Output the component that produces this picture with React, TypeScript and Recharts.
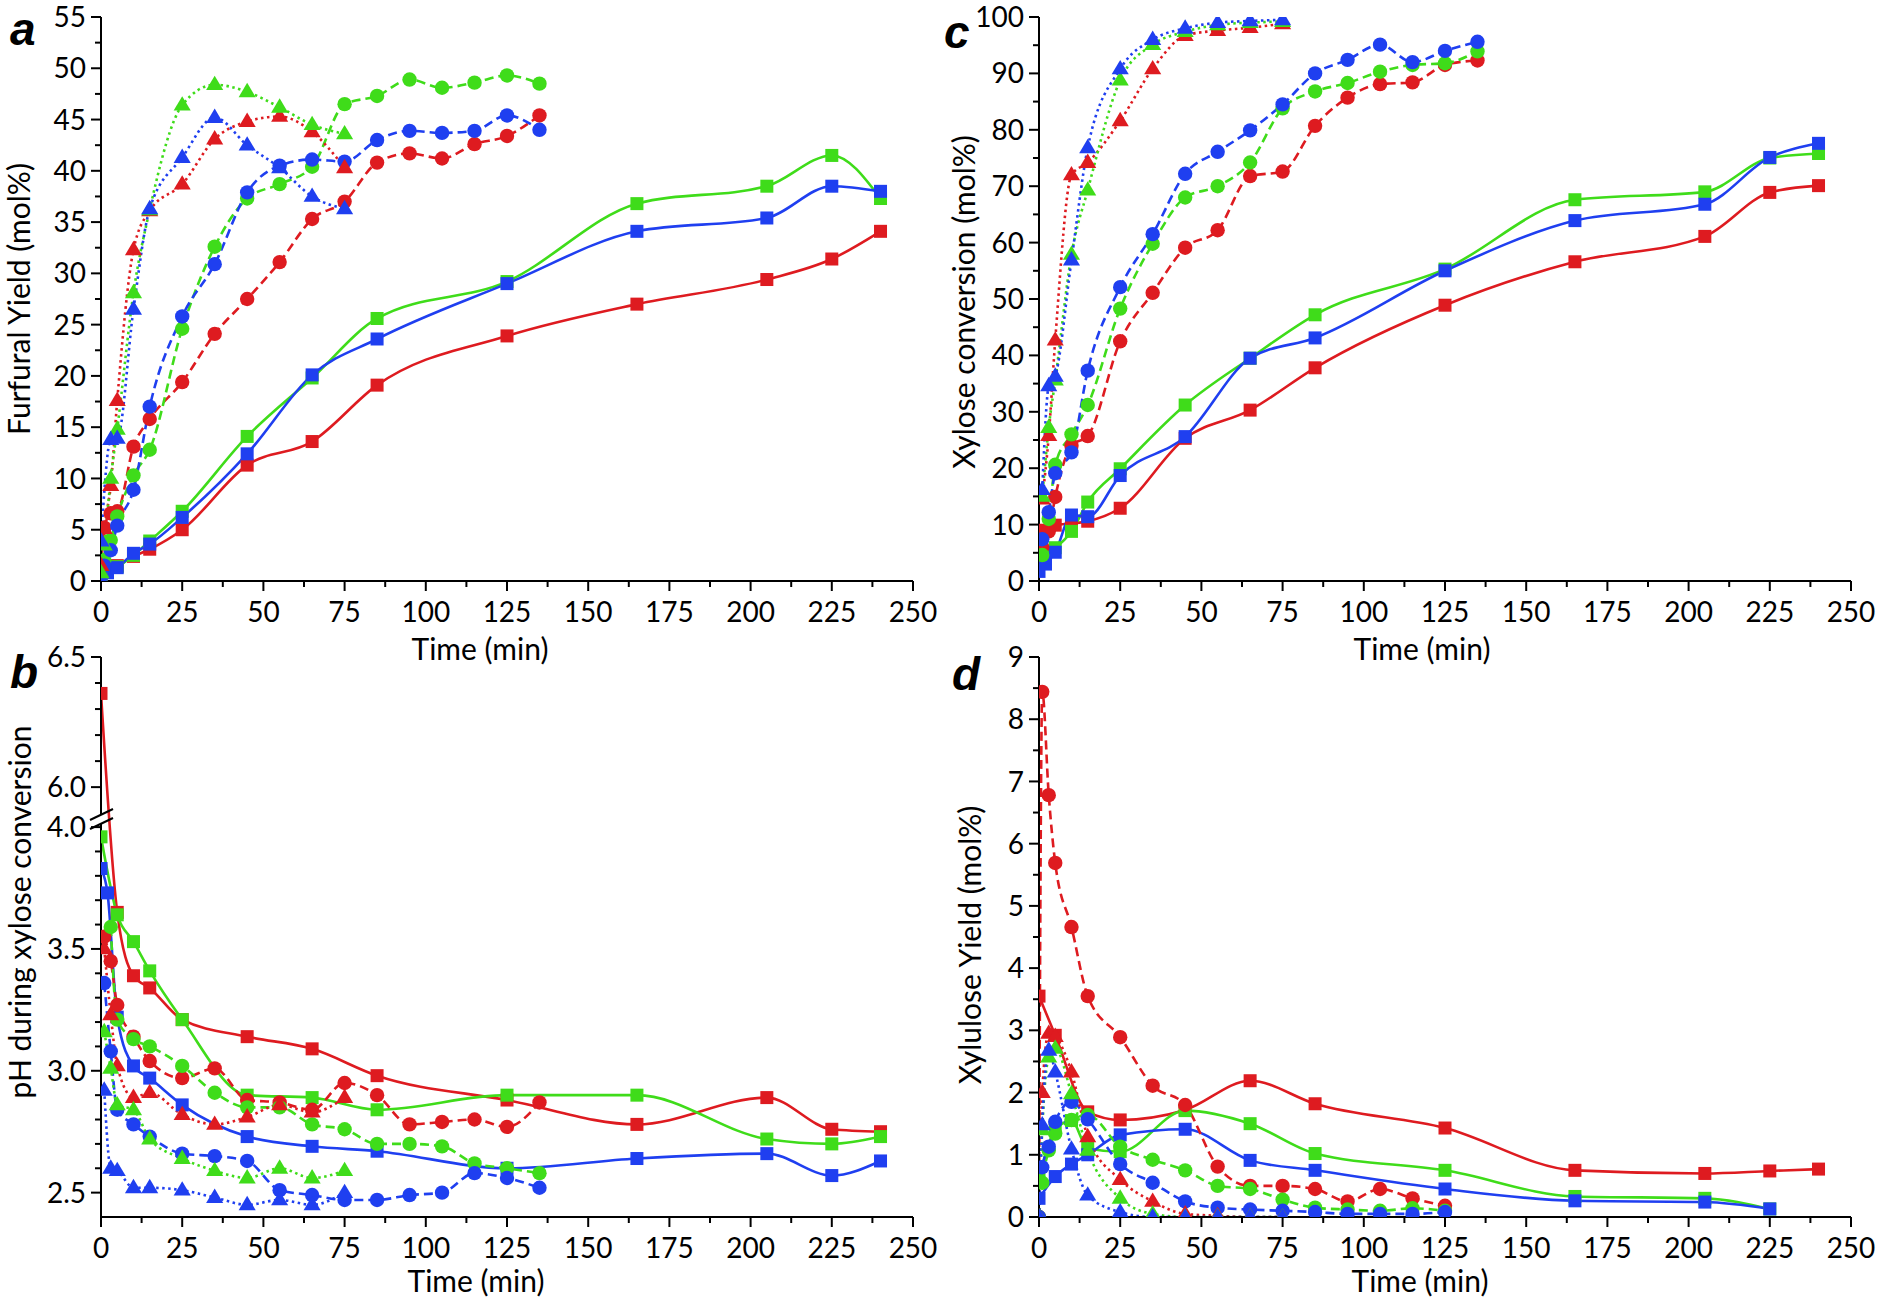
import React from 'react';
import { LineChart, Line, XAxis, YAxis } from 'recharts';

const RED = '#de1b20';
const GREEN = '#3fdc1a';
const BLUE = '#1f3ff0';
const FONT = "Lato, 'Open Sans', sans-serif";

// sampling times (min)
const tSq = [0, 2, 5, 10, 15, 25, 45, 65, 85, 125, 165, 205, 225, 240];
const tCi = [0, 1, 3, 5, 10, 15, 25, 35, 45, 55, 65, 75, 85, 95, 105, 115, 125, 135];
const tTr = [0, 1, 3, 5, 10, 15, 25, 35, 45, 55, 65, 75];

// panel a: furfural yield (mol%)
const aSqRed = [0.2, 1.0, 1.5, 2.4, 3.1, 5.0, 11.3, 13.6, 19.1, 23.9, 27.0, 29.4, 31.4, 34.1];
const aSqGreen = [0.5, 1.0, 1.4, 2.5, 3.9, 6.8, 14.1, 19.8, 25.6, 29.2, 36.8, 38.5, 41.5, 37.3];
const aSqBlue = [0.3, 0.8, 1.3, 2.7, 3.6, 6.2, 12.4, 20.1, 23.6, 29.0, 34.1, 35.4, 38.5, 38.0];
const aCiRed = [1.5, 5.2, 6.6, 6.8, 13.1, 15.8, 19.4, 24.1, 27.5, 31.1, 35.3, 37.0, 40.8, 41.7, 41.2, 42.6, 43.4, 45.4];
const aCiGreen = [0.5, 2.0, 4.0, 6.3, 10.3, 12.8, 24.6, 32.6, 37.3, 38.7, 40.4, 46.5, 47.3, 48.9, 48.1, 48.6, 49.3, 48.5];
const aCiBlue = [0.5, 1.5, 3.0, 5.4, 8.9, 17.0, 25.8, 30.9, 37.9, 40.5, 41.1, 40.9, 43.0, 43.9, 43.7, 43.9, 45.4, 44.0];
const aTrRed = [1.5, 5.1, 9.3, 17.6, 32.3, 36.1, 38.7, 43.1, 44.8, 45.3, 43.8, 40.3];
const aTrGreen = [0.8, 3.5, 10.0, 14.8, 28.1, 36.2, 46.4, 48.4, 47.7, 46.2, 44.5, 43.6];
const aTrBlue = [3.9, null, 13.8, 13.9, 26.5, 36.3, 41.3, 45.2, 42.5, 40.3, 37.5, 36.3];

// panel b: pH during xylose conversion
const bSqRed = [6.36, null, 3.65, 3.39, 3.34, 3.21, 3.14, 3.09, 2.98, 2.88, 2.78, 2.89, 2.76, 2.75];
const bSqGreen = [3.96, null, 3.64, 3.53, 3.41, 3.21, 2.90, 2.89, 2.84, 2.90, 2.90, 2.72, 2.70, 2.73];
const bSqBlue = [3.83, 3.73, 3.22, 3.02, 2.97, 2.86, 2.73, 2.69, 2.67, 2.60, 2.64, 2.66, 2.57, 2.63];
const bCiRed = [null, 3.55, 3.45, 3.27, 3.14, 3.04, 2.97, 3.01, 2.88, 2.87, 2.84, 2.95, 2.90, 2.78, 2.79, 2.80, 2.77, 2.87];
const bCiGreen = [null, null, 3.59, 3.21, 3.13, 3.10, 3.02, 2.91, 2.85, 2.85, 2.78, 2.76, 2.70, 2.70, 2.69, 2.62, 2.60, 2.58];
const bCiBlue = [null, 3.36, 3.08, 2.84, 2.78, 2.73, 2.66, 2.65, 2.63, 2.51, 2.49, 2.47, 2.47, 2.49, 2.50, 2.58, 2.56, 2.52];
const bTrRed = [null, 3.50, 3.23, 3.02, 2.89, 2.91, 2.82, 2.78, 2.81, 2.86, 2.83, 2.89];
const bTrGreen = [null, 3.16, 3.01, 2.86, 2.84, 2.72, 2.64, 2.59, 2.56, 2.60, 2.56, 2.59];
const bTrBlue = [null, 2.92, 2.60, 2.59, 2.52, 2.52, 2.51, 2.48, 2.45, 2.47, 2.45, 2.50];

// panel c: xylose conversion (mol%)
const cSqRed = [6.5, 9.0, 9.9, 10.2, 10.6, 12.9, 25.3, 30.3, 37.8, 48.9, 56.6, 61.1, 68.9, 70.1];
const cSqGreen = [4.2, 5.0, 5.9, 8.8, 14.0, 19.9, 31.2, 39.5, 47.2, 55.3, 67.6, 69.0, 75.0, 75.8];
const cSqBlue = [1.7, 3.0, 5.1, 11.7, 11.4, 18.7, 25.6, 39.5, 43.1, 55.0, 63.9, 66.8, 75.1, 77.6];
const cCiRed = [null, 6.0, 8.8, 14.9, 24.0, 25.7, 42.5, 51.1, 59.1, 62.2, 71.8, 72.6, 80.7, 85.7, 88.1, 88.4, 91.5, 92.3];
const cCiGreen = [null, 4.6, 11.0, 20.6, 26.0, 31.2, 48.3, 59.8, 68.0, 70.0, 74.2, 83.8, 86.8, 88.3, 90.3, 91.5, 91.8, 93.9];
const cCiBlue = [null, 7.4, 12.2, 19.1, 22.8, 37.3, 52.1, 61.5, 72.2, 76.1, 79.9, 84.5, 90.0, 92.4, 95.1, 92.0, 94.0, 95.6];
const cTrRed = [null, 14.5, 25.8, 42.7, 72.0, 74.2, 81.6, 90.8, 96.7, 97.6, 98.1, 98.8];
const cTrGreen = [null, 15.0, 27.2, 35.6, 57.9, 69.3, 88.8, 95.1, 97.4, 98.6, 99.0, 99.2];
const cTrBlue = [null, 16.2, 34.6, 36.3, 56.9, 76.8, 90.8, 96.0, 98.0, 99.0, 99.3, 99.5];

// panel d: xylulose yield (mol%)
const dSqRed = [3.55, null, 2.92, null, 1.69, 1.56, 1.72, 2.19, 1.82, 1.43, 0.75, 0.70, 0.74, 0.77];
const dSqGreen = [0.6, null, 1.4, 1.55, 1.1, 1.05, 1.71, 1.50, 1.02, 0.75, 0.33, 0.30, 0.13, null];
const dSqBlue = [0.3, null, 0.65, 0.85, 1.0, 1.32, 1.41, 0.91, 0.75, 0.45, 0.26, 0.24, 0.13, null];
const dCiRed = [0, 8.44, 6.78, 5.69, 4.66, 3.55, 2.89, 2.11, 1.80, 0.81, 0.50, 0.50, 0.45, 0.25, 0.45, 0.30, 0.18, null];
const dCiGreen = [0, 0.55, 1.07, 1.34, 1.56, 1.64, 1.13, 0.92, 0.75, 0.50, 0.45, 0.28, 0.15, 0.12, 0.10, 0.14, 0.10, null];
const dCiBlue = [0, 0.80, 1.13, 1.53, 1.85, 1.57, 0.85, 0.55, 0.25, 0.15, 0.12, 0.10, 0.08, 0.05, 0.05, 0.05, 0.08, null];
const dTrRed = [0, 2.0, 2.95, 2.9, 2.33, 1.29, 0.6, 0.25, 0.05, 0.02, 0, 0];
const dTrGreen = [0, 1.4, 2.57, 2.71, 1.98, 1.07, 0.3, 0.05, 0, 0, 0, 0];
const dTrBlue = [0, 1.48, 2.68, 2.33, 1.09, 0.35, 0.08, 0, 0, 0, 0, 0];

// axis tick values
const xTicks = Array.from({ length: 21 }, (_, i) => i * 12.5);
const aYTicks = Array.from({ length: 23 }, (_, i) => i * 2.5);
const cYTicks = Array.from({ length: 21 }, (_, i) => i * 5);
const dYTicks = Array.from({ length: 19 }, (_, i) => i * 0.5);
const bLowerTicks = [25, 26, 27, 28, 29, 30, 31, 32, 33, 34, 35, 36, 37, 38, 39, 40];
const bUpperTicks = [60, 61, 62, 63, 64, 65];

// broken axis mapping for panel b (2.4-4.0 | 6.0-6.5)
const B_GAP = 0.164;
const B_K = 1.068;
const uB = (v: number) => (v <= 4.0 ? v : 4.0 + B_GAP + (v - 6.0) * B_K);
const bTickInfo = [
  ...bLowerTicks.map((i) => ({ u: uB(i / 10), label: (i / 10).toFixed(1), major: i % 5 === 0 })),
  ...bUpperTicks.map((i) => ({ u: uB(i / 10), label: (i / 10).toFixed(1), major: i % 5 === 0 })),
];

type Shape = 'sq' | 'ci' | 'tr';
type Series = { t: number[]; v: (number | null)[]; color: string; shape: Shape };

const mk = (t: number[], v: (number | null)[], color: string, shape: Shape): Series => ({ t, v, color, shape });

const aSeries: Series[] = [
  mk(tSq, aSqRed, RED, 'sq'), mk(tSq, aSqGreen, GREEN, 'sq'), mk(tSq, aSqBlue, BLUE, 'sq'),
  mk(tCi, aCiRed, RED, 'ci'), mk(tCi, aCiGreen, GREEN, 'ci'), mk(tCi, aCiBlue, BLUE, 'ci'),
  mk(tTr, aTrRed, RED, 'tr'), mk(tTr, aTrGreen, GREEN, 'tr'), mk(tTr, aTrBlue, BLUE, 'tr'),
];
const bSeries: Series[] = [
  mk(tSq, bSqRed, RED, 'sq'), mk(tSq, bSqGreen, GREEN, 'sq'), mk(tSq, bSqBlue, BLUE, 'sq'),
  mk(tCi, bCiRed, RED, 'ci'), mk(tCi, bCiGreen, GREEN, 'ci'), mk(tCi, bCiBlue, BLUE, 'ci'),
  mk(tTr, bTrRed, RED, 'tr'), mk(tTr, bTrGreen, GREEN, 'tr'), mk(tTr, bTrBlue, BLUE, 'tr'),
];
const cSeries: Series[] = [
  mk(tSq, cSqRed, RED, 'sq'), mk(tSq, cSqGreen, GREEN, 'sq'), mk(tSq, cSqBlue, BLUE, 'sq'),
  mk(tCi, cCiRed, RED, 'ci'), mk(tCi, cCiGreen, GREEN, 'ci'), mk(tCi, cCiBlue, BLUE, 'ci'),
  mk(tTr, cTrRed, RED, 'tr'), mk(tTr, cTrGreen, GREEN, 'tr'), mk(tTr, cTrBlue, BLUE, 'tr'),
];
const dSeries: Series[] = [
  mk(tSq, dSqRed, RED, 'sq'), mk(tSq, dSqGreen, GREEN, 'sq'), mk(tSq, dSqBlue, BLUE, 'sq'),
  mk(tCi, dCiRed, RED, 'ci'), mk(tCi, dCiGreen, GREEN, 'ci'), mk(tCi, dCiBlue, BLUE, 'ci'),
  mk(tTr, dTrRed, RED, 'tr'), mk(tTr, dTrGreen, GREEN, 'tr'), mk(tTr, dTrBlue, BLUE, 'tr'),
];

const toData = (s: Series, f: (v: number) => number) =>
  s.t.map((t, i) => ({ t, v: s.v[i] == null ? null : f(s.v[i] as number) })).filter((d) => d.v != null);

const makeDot = (shape: Shape, color: string) => (props: any) => {
  const { cx, cy, index } = props;
  if (cx == null || cy == null || isNaN(cx) || isNaN(cy)) return <g key={`n${index}`} />;
  if (shape === 'sq') return <rect key={`s${index}`} x={cx - 6.5} y={cy - 6.5} width={13} height={13} fill={color} />;
  if (shape === 'ci') return <circle key={`c${index}`} cx={cx} cy={cy} r={7.2} fill={color} />;
  const s = 9;
  return (
    <polygon
      key={`t${index}`}
      points={`${cx},${cy - s} ${cx - s * 0.95},${cy + s * 0.6} ${cx + s * 0.95},${cy + s * 0.6}`}
      fill={color}
    />
  );
};

const dashOf = (shape: Shape) => (shape === 'sq' ? undefined : shape === 'ci' ? '9 5' : '2.5 3.5');

const AXIS_X = 101;
const TICK_FS = 28;

const makeXTick = (axisY: number) => (props: any) => {
  const { x, payload } = props;
  const v = payload.value as number;
  const major = Math.abs(v / 25 - Math.round(v / 25)) < 1e-6;
  return (
    <g>
      <line x1={x} x2={x} y1={axisY} y2={axisY + (major ? 10 : 6)} stroke="#000" strokeWidth={2} />
      {major && (
        <text x={x} y={axisY + 41} textAnchor="middle" fontFamily={FONT} fontSize={TICK_FS} fill="#000">
          {Math.round(v)}
        </text>
      )}
    </g>
  );
};

const makeYTick = (isMajor: (v: number) => boolean, fmt: (v: number) => string) => (props: any) => {
  const { y, payload } = props;
  const v = payload.value as number;
  const major = isMajor(v);
  return (
    <g>
      <line x1={AXIS_X - (major ? 10 : 6)} x2={AXIS_X} y1={y} y2={y} stroke="#000" strokeWidth={2} />
      {major && (
        <text x={AXIS_X - 15} y={y} dy="0.36em" textAnchor="end" fontFamily={FONT} fontSize={TICK_FS} fill="#000">
          {fmt(v)}
        </text>
      )}
    </g>
  );
};

const near = (a: number, b: number) => Math.abs(a - b) < 1e-6;

type PanelProps = {
  left: number;
  top: number;
  height: number;
  marginTop: number;
  marginBottom: number;
  series: Series[];
  yDomain: [number, number];
  yTicks: number[];
  isMajor: (v: number) => boolean;
  fmt: (v: number) => string;
  f: (v: number) => number;
};

function Panel(p: PanelProps) {
  const width = 940;
  const axisY = p.height - p.marginBottom - 70;
  return (
    <div style={{ position: 'absolute', left: p.left, top: p.top }}>
      <LineChart width={width} height={p.height} margin={{ top: p.marginTop, right: 27, bottom: p.marginBottom, left: 0 }}>
        <XAxis
          type="number"
          dataKey="t"
          domain={[0, 250]}
          ticks={xTicks}
          interval={0}
          height={70}
          tickLine={false}
          tickSize={9}
          tickMargin={8}
          tick={makeXTick(axisY)}
          axisLine={{ stroke: '#000', strokeWidth: 2 }}
          allowDataOverflow
        />
        <YAxis
          type="number"
          domain={p.yDomain}
          ticks={p.yTicks}
          interval={0}
          width={101}
          tickLine={false}
          tickSize={9}
          tickMargin={8}
          tick={makeYTick(p.isMajor, p.fmt)}
          axisLine={{ stroke: '#000', strokeWidth: 2 }}
          allowDataOverflow
        />
        {p.series.map((s, i) => (
          <Line
            key={i}
            data={toData(s, p.f)}
            dataKey="v"
            type="monotone"
            stroke={s.color}
            strokeWidth={2.6}
            strokeDasharray={dashOf(s.shape)}
            dot={makeDot(s.shape, s.color)}
            activeDot={false}
            isAnimationActive={false}
            connectNulls
          />
        ))}
      </LineChart>
    </div>
  );
}

const ident = (v: number) => v;

export default function App() {
  const txt = { fontFamily: FONT, fontSize: 30, fill: '#000' } as const;
  const letter = { fontFamily: "'Liberation Sans', Arial, sans-serif", fontSize: 46, fontWeight: 700, fontStyle: 'italic', fill: '#000' } as const;
  return (
    <div style={{ position: 'absolute', left: 0, top: 0, width: 1878, height: 1303, background: '#fff', overflow: 'hidden' }}>
      <Panel
        left={0}
        top={0}
        height={660}
        marginTop={17}
        marginBottom={9}
        series={aSeries}
        yDomain={[0, 55]}
        yTicks={aYTicks}
        isMajor={(v) => near(v / 5, Math.round(v / 5))}
        fmt={(v) => String(Math.round(v))}
        f={ident}
      />
      <Panel
        left={938}
        top={0}
        height={660}
        marginTop={17}
        marginBottom={9}
        series={cSeries}
        yDomain={[0, 100]}
        yTicks={cYTicks}
        isMajor={(v) => near(v / 10, Math.round(v / 10))}
        fmt={(v) => String(Math.round(v))}
        f={ident}
      />
      <Panel
        left={0}
        top={640}
        height={663}
        marginTop={17}
        marginBottom={16}
        series={bSeries}
        yDomain={[2.4, uB(6.5)]}
        yTicks={bTickInfo.map((d) => d.u)}
        isMajor={(v) => bTickInfo.some((d) => near(d.u, v) && d.major)}
        fmt={(v) => (bTickInfo.find((d) => near(d.u, v)) || { label: '' }).label}
        f={uB}
      />
      <Panel
        left={938}
        top={640}
        height={663}
        marginTop={17}
        marginBottom={16}
        series={dSeries}
        yDomain={[0, 9]}
        yTicks={dYTicks}
        isMajor={(v) => near(v, Math.round(v))}
        fmt={(v) => String(Math.round(v))}
        f={ident}
      />
      <svg width={1878} height={1303} style={{ position: 'absolute', left: 0, top: 0, pointerEvents: 'none' }}>
        {/* axis break marks on panel b */}
        <rect x={97} y={815} width={8} height={8} fill="#fff" />
        <line x1={90} y1={820} x2={113} y2={809} stroke="#000" strokeWidth={2} />
        <line x1={90} y1={829} x2={113} y2={818} stroke="#000" strokeWidth={2} />
        {/* panel letters */}
        <text x={10} y={45} {...letter}>a</text>
        <text x={10} y={688} {...letter}>b</text>
        <text x={944} y={48} {...letter}>c</text>
        <text x={952} y={690} {...letter}>d</text>
        {/* axis titles */}
        <text x={480} y={660} textAnchor="middle" {...txt}>Time (min)</text>
        <text x={476} y={1292} textAnchor="middle" {...txt}>Time (min)</text>
        <text x={1422} y={660} textAnchor="middle" {...txt}>Time (min)</text>
        <text x={1420} y={1292} textAnchor="middle" {...txt}>Time (min)</text>
        <text transform="translate(30,299) rotate(-90)" textAnchor="middle" {...txt}>Furfural Yield (mol%)</text>
        <text transform="translate(31,912) rotate(-90)" textAnchor="middle" {...txt}>pH during xylose conversion</text>
        <text transform="translate(975,302) rotate(-90)" textAnchor="middle" {...txt}>Xylose conversion (mol%)</text>
        <text transform="translate(981,945) rotate(-90)" textAnchor="middle" {...txt}>Xylulose Yield (mol%)</text>
      </svg>
    </div>
  );
}
